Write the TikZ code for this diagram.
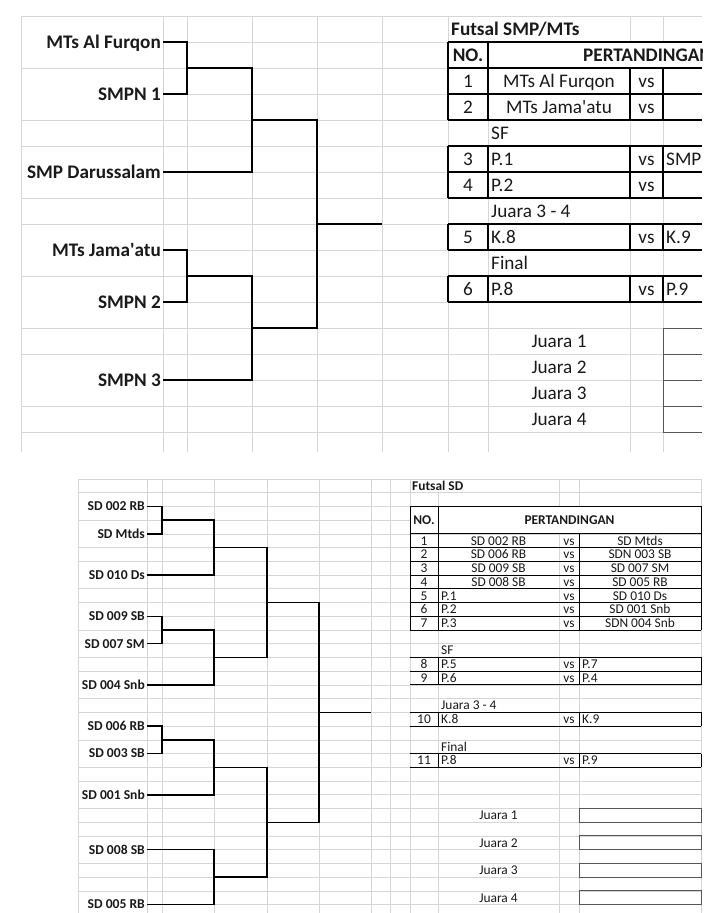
\documentclass[tikz,border=0pt]{standalone}
\usepackage{fontspec}
\setmainfont{Carlito}
\definecolor{gridc}{HTML}{D6D6D6}
\definecolor{ink}{HTML}{1A1A1A}
\definecolor{boxc}{HTML}{555555}
\tikzset{
  gridln/.style={draw=gridc, line width=0.7pt},
  brT/.style={draw=black, line width=1.7pt},
  brB/.style={draw=black, line width=1.4pt},
  tbT/.style={draw=black, line width=1.3pt},
  tbB/.style={draw=black, line width=1.0pt},
  jbox/.style={draw=boxc, line width=1pt},
  labT/.style={anchor=base east, inner sep=0pt, text=ink, font=\fontsize{19.2}{21}\selectfont\bfseries},
  labB/.style={anchor=base east, inner sep=0pt, text=ink, font=\fontsize{13.6}{15}\selectfont\bfseries},
  tT/.style={anchor=base, inner sep=0pt, text=ink, font=\fontsize{19.2}{21}\selectfont},
  tTb/.style={anchor=base, inner sep=0pt, text=ink, font=\fontsize{19.2}{21}\selectfont\bfseries},
  tB/.style={anchor=base, inner sep=0pt, text=ink, font=\fontsize{13.4}{15}\selectfont},
  tBb/.style={anchor=base, inner sep=0pt, text=ink, font=\fontsize{13.4}{15}\selectfont\bfseries},
}
\begin{document}
\begin{tikzpicture}[x=1pt,y=-1pt,line join=miter]
\useasboundingbox (0,0) rectangle (720,913);
\fill[white] (0,0) rectangle (720,913);

% ---------------- TOP PANEL GRID ----------------
\foreach \x in {21,163,187,252,317,382,448,630,663}
  \draw[gridln] (\x,16) -- (\x,452);
\draw[gridln] (488,42) -- (488,452);
\foreach \k in {0,2,4,5,7,8,10,12,13,15,16}
  \draw[gridln] (21,{16+26*\k}) -- (702,{16+26*\k});
\foreach \k in {1,3,6,9,11,14}
  \draw[gridln] (163,{16+26*\k}) -- (702,{16+26*\k});

% ---------------- BOTTOM PANEL GRID ----------------
\foreach \x in {78,147,162,214,267,319,371,390,410,559,579,701}
  \draw[gridln] (\x,479) -- (\x,913);
\draw[gridln] (438,492.73) -- (438,913);
\foreach \k in {0,1,3,5,6,8,9,11,13,14,16,17,19,21,22,24,25,26,28,29,30}
  \draw[gridln] (78,{479+13.73*\k}) -- (701,{479+13.73*\k});
\foreach \k in {2,4,7,10,12,15,18,20,23,27,31}
  \draw[gridln] (147,{479+13.73*\k}) -- (701,{479+13.73*\k});

% ---------------- TOP BRACKET ----------------
\node[labT] (t1) at (161,48.2) {MTs Al Furqon};
\node[labT] (t2) at (161,100.2) {SMPN 1};
\node[labT] (t3) at (161,178.2) {SMP Darussalam};
\node[labT] (t4) at (161,256.2) {MTs Jama\textquotesingle atu};
\node[labT] (t5) at (161,308.2) {SMPN 2};
\node[labT] (t6) at (161,386.2) {SMPN 3};
\coordinate (t1e) at (163,42);
\coordinate (t2e) at (163,94);
\coordinate (t3e) at (163,172);
\coordinate (t4e) at (163,250);
\coordinate (t5e) at (163,302);
\coordinate (t6e) at (163,380);
\coordinate (j1) at (187,68);
\coordinate (j2) at (252,120);
\coordinate (j3) at (317,224);
\coordinate (j4) at (187,276);
\coordinate (j5) at (252,328);
\coordinate (jf) at (382,224);
\draw[brT] (t1e) -| (j1) |- (t2e);
\draw[brT] (j1) -| (j2);
\draw[brT] (t3e) -| (j2);
\draw[brT] (t4e) -| (j4) |- (t5e);
\draw[brT] (j4) -| (j5);
\draw[brT] (t6e) -| (j5);
\draw[brT] (j2) -| (j3);
\draw[brT] (j5) -| (j3);
\draw[brT] (j3) -- (jf);

% ---------------- TOP TABLE ----------------
\fill[white] (488.6,42.6) rectangle (702,67.4);
\begin{scope}
\clip (0,0) rectangle (702,460);
\draw[tbT] (448,42) -- (702,42);
\draw[tbT] (448,68) -- (702,68);
\draw[tbT] (448,42) -- (448,68);
\draw[tbT] (488,42) -- (488,68);
\foreach \a/\b in {68/120,146/198,224/250,276/302}{
  \foreach \x in {448,488,630,663} \draw[tbT] (\x,\a) -- (\x,\b);
}
\foreach \y in {68,94,120,146,172,198,224,250,276,302}
  \draw[tbT] (448,\y) -- (702,\y);
\foreach \y in {328,354,380,406,432}
  \draw[jbox] (663,\y) -- (702,\y);
\draw[jbox] (663,328) -- (663,432);

\node[tTb, anchor=base west] (ttl) at (451,35.2) {Futsal SMP/MTs};
\node[tTb] (tno) at (468,61.2) {NO.};
\node[tTb, anchor=base west] (tpert) at (583,61.2) {PERTANDINGAN};
\node[tT] (r1n) at (468,87.2) {1};
\node[tT] (r1a) at (559,87.2) {MTs Al Furqon};
\node[tT] (r1v) at (646.5,87.2) {vs};
\node[tT] (r2n) at (468,113.2) {2};
\node[tT] (r2a) at (559,113.2) {MTs Jama\textquotesingle atu};
\node[tT] (r2v) at (646.5,113.2) {vs};
\node[tT, anchor=base west] (tsf) at (491,139.2) {SF};
\node[tT] (r3n) at (468,165.2) {3};
\node[tT, anchor=base west] (r3a) at (491,165.2) {P.1};
\node[tT] (r3v) at (646.5,165.2) {vs};
\node[tT, anchor=base west] (r3b) at (666,165.2) {SMP};
\node[tT] (r4n) at (468,191.2) {4};
\node[tT, anchor=base west] (r4a) at (491,191.2) {P.2};
\node[tT] (r4v) at (646.5,191.2) {vs};
\node[tT, anchor=base west] (tj34) at (491,217.2) {Juara 3 - 4};
\node[tT] (r5n) at (468,243.2) {5};
\node[tT, anchor=base west] (r5a) at (491,243.2) {K.8};
\node[tT] (r5v) at (646.5,243.2) {vs};
\node[tT, anchor=base west] (r5b) at (666,243.2) {K.9};
\node[tT, anchor=base west] (tfin) at (491,269.2) {Final};
\node[tT] (r6n) at (468,295.2) {6};
\node[tT, anchor=base west] (r6a) at (491,295.2) {P.8};
\node[tT] (r6v) at (646.5,295.2) {vs};
\node[tT, anchor=base west] (r6b) at (666,295.2) {P.9};
\node[tT] (tj1) at (559,347.2) {Juara 1};
\node[tT] (tj2) at (559,373.2) {Juara 2};
\node[tT] (tj3) at (559,399.2) {Juara 3};
\node[tT] (tj4) at (559,425.2) {Juara 4};
\end{scope}

% ---------------- BOTTOM BRACKET ----------------
\node[labB] (b1) at (145,510.8) {SD 002 RB};
\node[labB] (b2) at (145,538.2) {SD Mtds};
\node[labB] (b3) at (145,579.4) {SD 010 Ds};
\node[labB] (b4) at (145,620.6) {SD 009 SB};
\node[labB] (b5) at (145,648.1) {SD 007 SM};
\node[labB] (b6) at (145,689.3) {SD 004 Snb};
\node[labB] (b7) at (145,730.4) {SD 006 RB};
\node[labB] (b8) at (145,757.9) {SD 003 SB};
\node[labB] (b9) at (145,799.1) {SD 001 Snb};
\node[labB] (b10) at (145,854.0) {SD 008 SB};
\node[labB] (b11) at (145,908.9) {SD 005 RB};
\coordinate (b1e) at (146.5,506.46);
\coordinate (b2e) at (146.5,533.92);
\coordinate (b3e) at (146.5,575.11);
\coordinate (b4e) at (146.5,616.3);
\coordinate (b5e) at (146.5,643.76);
\coordinate (b6e) at (146.5,684.95);
\coordinate (b7e) at (146.5,726.14);
\coordinate (b8e) at (146.5,753.6);
\coordinate (b9e) at (146.5,794.79);
\coordinate (b10e) at (146.5,849.71);
\coordinate (b11e) at (146.5,904.63);
\coordinate (q1) at (162,520.19);
\coordinate (q2) at (214,547.65);
\coordinate (q3) at (162,630.03);
\coordinate (q4) at (214,657.49);
\coordinate (q5) at (267,602.57);
\coordinate (q6) at (162,739.87);
\coordinate (q7) at (214,767.33);
\coordinate (q8) at (214,877.17);
\coordinate (q9) at (267,822.25);
\coordinate (q10) at (319,712.41);
\coordinate (qf) at (371,712.41);
\draw[brB] (b1e) -| (q1) |- (b2e);
\draw[brB] (q1) -| (q2);
\draw[brB] (b3e) -| (q2);
\draw[brB] (b4e) -| (q3) |- (b5e);
\draw[brB] (q3) -| (q4);
\draw[brB] (b6e) -| (q4);
\draw[brB] (q2) -| (q5);
\draw[brB] (q4) -| (q5);
\draw[brB] (b7e) -| (q6) |- (b8e);
\draw[brB] (q6) -| (q7);
\draw[brB] (b9e) -| (q7);
\draw[brB] (b10e) -| (q8) |- (b11e);
\draw[brB] (q7) -| (q9);
\draw[brB] (q8) -| (q9);
\draw[brB] (q5) -| (q10);
\draw[brB] (q9) -| (q10);
\draw[brB] (q10) -- (qf);

% ---------------- BOTTOM TABLE ----------------
\fill[white] (410.5,507) rectangle (700.5,533.4);
\draw[tbB] (410,506.46) rectangle (701,533.92);
\draw[tbB] (438,506.46) -- (438,533.92);
\foreach \k in {4,...,11}
  \draw[tbB] (410,{479+13.73*\k}) -- (701,{479+13.73*\k});
\foreach \x in {410,438,579,701}
  \draw[tbB] (\x,533.92) -- (\x,630.03);
\foreach \k in {13,14,15,17,18,20,21}
  \draw[tbB] (410,{479+13.73*\k}) -- (701,{479+13.73*\k});
\foreach \a/\b in {657.49/684.95,712.41/726.14,753.6/767.33}{
  \foreach \x in {438,579,701} \draw[tbB] (\x,\a) -- (\x,\b);
}
\foreach \a/\b in {808.52/822.25,835.98/849.71,863.44/877.17,890.9/904.63}
  \draw[jbox] (579,\a) rectangle (701,\b);

\node[tBb, anchor=base west] (sdttl) at (412,490.2) {Futsal SD};
\node[tBb] (sdno) at (424,524.5) {NO.};
\node[tBb] (sdpert) at (569.5,524.5) {PERTANDINGAN};
\node[tB] (s1n) at (424,545.1) {1};
\node[tB] (s1a) at (498.5,545.1) {SD 002 RB};
\node[tB] (s1v) at (569,545.1) {vs};
\node[tB] (s1b) at (640,545.1) {SD Mtds};
\node[tB] (s2n) at (424,558.8) {2};
\node[tB] (s2a) at (498.5,558.8) {SD 006 RB};
\node[tB] (s2v) at (569,558.8) {vs};
\node[tB] (s2b) at (640,558.8) {SDN 003 SB};
\node[tB] (s3n) at (424,572.6) {3};
\node[tB] (s3a) at (498.5,572.6) {SD 009 SB};
\node[tB] (s3v) at (569,572.6) {vs};
\node[tB] (s3b) at (640,572.6) {SD 007 SM};
\node[tB] (s4n) at (424,586.3) {4};
\node[tB] (s4a) at (498.5,586.3) {SD 008 SB};
\node[tB] (s4v) at (569,586.3) {vs};
\node[tB] (s4b) at (640,586.3) {SD 005 RB};
\node[tB] (s5n) at (424,600.0) {5};
\node[tB, anchor=base west] (s5a) at (441,600.0) {P.1};
\node[tB] (s5v) at (569,600.0) {vs};
\node[tB] (s5b) at (640,600.0) {SD 010 Ds};
\node[tB] (s6n) at (424,613.7) {6};
\node[tB, anchor=base west] (s6a) at (441,613.7) {P.2};
\node[tB] (s6v) at (569,613.7) {vs};
\node[tB] (s6b) at (640,613.7) {SD 001 Snb};
\node[tB] (s7n) at (424,627.5) {7};
\node[tB, anchor=base west] (s7a) at (441,627.5) {P.3};
\node[tB] (s7v) at (569,627.5) {vs};
\node[tB] (s7b) at (640,627.5) {SDN 004 Snb};
\node[tB, anchor=base west] (ssf) at (441,654.9) {SF};
\node[tB] (s8n) at (424,668.7) {8};
\node[tB, anchor=base west] (s8a) at (441,668.7) {P.5};
\node[tB] (s8v) at (569,668.7) {vs};
\node[tB, anchor=base west] (s8b) at (582,668.7) {P.7};
\node[tB] (s9n) at (424,682.4) {9};
\node[tB, anchor=base west] (s9a) at (441,682.4) {P.6};
\node[tB] (s9v) at (569,682.4) {vs};
\node[tB, anchor=base west] (s9b) at (582,682.4) {P.4};
\node[tB, anchor=base west] (sj34) at (441,709.8) {Juara 3 - 4};
\node[tB] (s10n) at (424,723.6) {10};
\node[tB, anchor=base west] (s10a) at (441,723.6) {K.8};
\node[tB] (s10v) at (569,723.6) {vs};
\node[tB, anchor=base west] (s10b) at (582,723.6) {K.9};
\node[tB, anchor=base west] (sfin) at (441,751.0) {Final};
\node[tB] (s11n) at (424,764.8) {11};
\node[tB, anchor=base west] (s11a) at (441,764.8) {P.8};
\node[tB] (s11v) at (569,764.8) {vs};
\node[tB, anchor=base west] (s11b) at (582,764.8) {P.9};
\node[tB] (sj1) at (498.5,819.7) {Juara 1};
\node[tB] (sj2) at (498.5,847.1) {Juara 2};
\node[tB] (sj3) at (498.5,874.6) {Juara 3};
\node[tB] (sj4) at (498.5,902.1) {Juara 4};
\end{tikzpicture}
\end{document}
